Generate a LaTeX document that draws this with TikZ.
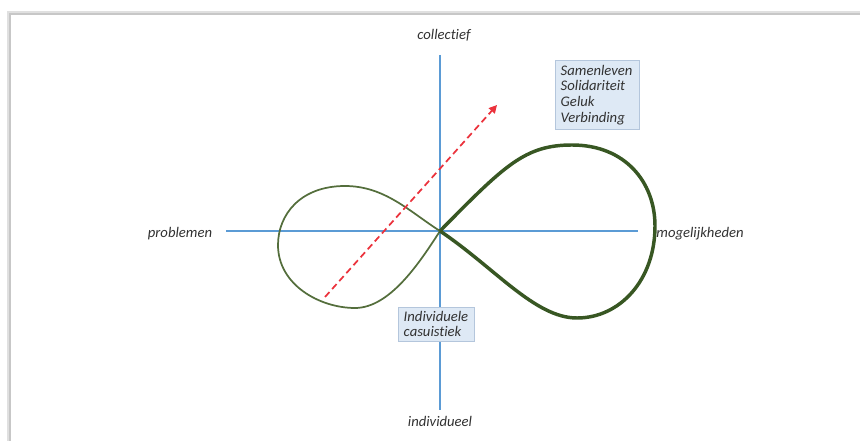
\documentclass[tikz,border=0pt]{standalone}
\usepackage{fontspec}
\setmainfont{Carlito}[Ligatures={NoCommon}]
\usetikzlibrary{arrows.meta}
\definecolor{axisblue}{RGB}{91,155,213}
\definecolor{loopgreen}{RGB}{56,87,35}
\definecolor{thingreen}{RGB}{84,110,60}
\definecolor{arrred}{RGB}{235,50,60}
\definecolor{boxfill}{RGB}{222,233,245}
\definecolor{boxline}{RGB}{180,198,220}
\definecolor{txtgray}{RGB}{50,50,50}
\tikzset{
  lbl/.style={font=\fontsize{11}{12}\selectfont\itshape, text=txtgray, inner sep=1pt},
  infobox/.style={lbl, fill=boxfill, draw=boxline, line width=0.6pt, align=left, inner sep=4pt},
  axis/.style={draw=axisblue, line width=1.2pt},
}
\begin{document}
\begin{tikzpicture}[x=0.75pt,y=-0.75pt]
\useasboundingbox (0,0) rectangle (860,441);
% frame with shadow
\draw[black!12, line width=2.5pt] (9,441) -- (9,13) -- (860,13);
\draw[black!22, line width=0.8pt] (10,441) -- (10,14) -- (860,14);
% axes
\coordinate (O) at (440,231);
\coordinate (top) at (440,55);
\coordinate (bot) at (440,410);
\coordinate (lft) at (226,231);
\coordinate (rgt) at (638,231);
\draw[axis] (top) -- (bot);
\draw[axis] (lft) -- (rgt);
% labels
\node[lbl] (coll) at (444,35) {collectief};
\node[lbl] (indiv) at (440,421) {individueel};
\node[lbl] (prob) at (180,234) {problemen};
\node[lbl] (mog) at (700,234) {mogelijkheden};
% left loop (thin)
\draw[thingreen, line width=1.3pt] (O) .. controls (410,212) and (385,186) .. (345,186)
  .. controls (300,186) and (278,215) .. (278,245)
  .. controls (278,285) and (320,308) .. (355,308)
  .. controls (390,308) and (420,262) .. (O);
% right loop (thick)
\draw[loopgreen, line width=2.6pt, line join=round] (O) .. controls (505,165) and (525,145) .. (572,145)
  .. controls (625,145) and (655,182) .. (655,226)
  .. controls (655,280) and (620,318) .. (577,318)
  .. controls (535,318) and (495,268) .. (O);
% red dashed arrow
\coordinate (as) at (325,297);
\coordinate (ae) at (497,105);
\draw[arrred, line width=1.3pt, dash pattern=on 5pt off 3pt, -{Triangle[length=6pt,width=6pt]}] (as) -- (ae);
% boxes
\node[infobox, anchor=north west, text width=55pt, inner ysep=3.5pt] (samen) at (555,60)
  {Samenleven\\[-0.3pt]Solidariteit\\[-0.3pt]Geluk\\[-0.3pt]Verbinding};
\node[infobox, anchor=north west, text width=49pt, inner ysep=3pt] (cas) at (398,307) {Individuele\\[-0.5pt]casuistiek};
\end{tikzpicture}
\end{document}
